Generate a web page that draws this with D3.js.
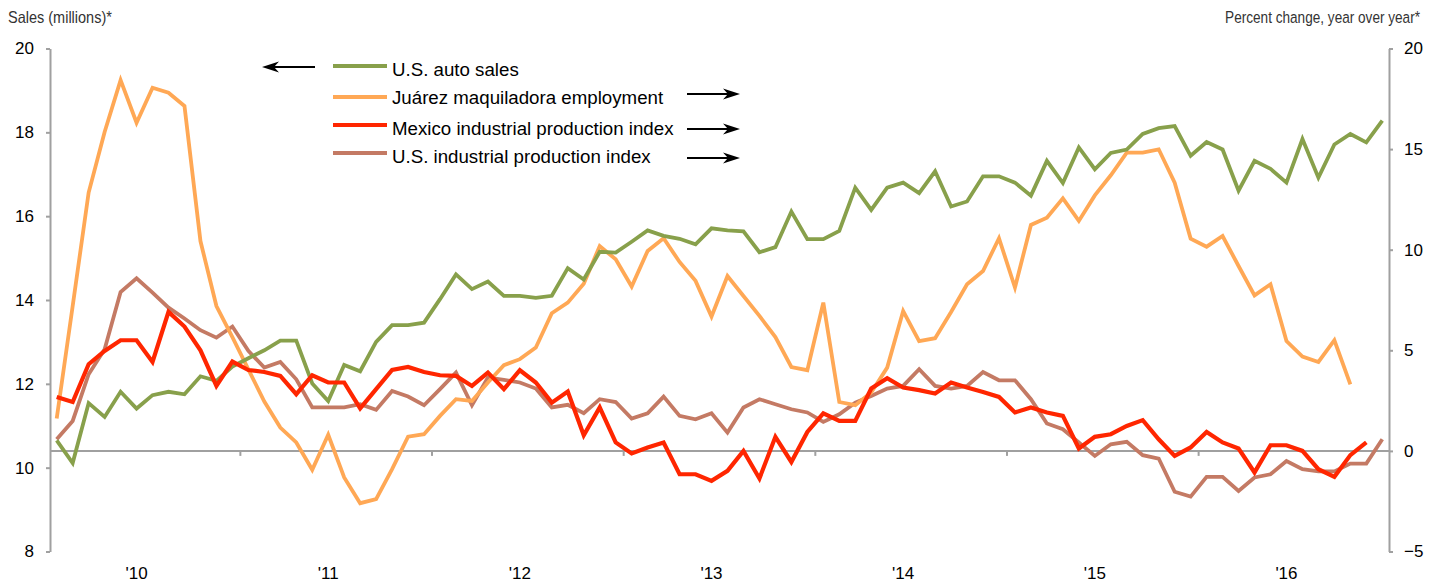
<!DOCTYPE html>
<html>
<head>
<meta charset="utf-8">
<script src="https://cdn.jsdelivr.net/npm/d3@7"></script>
<style>
  body { margin: 0; background: #fff; }
  svg { display: block; font-family: "Liberation Sans", Arial, Helvetica, sans-serif; }
</style>
</head>
<body>
<div id="chart"></div>
<script>
"use strict"

// monthly observations, Jan 2010 - Dec 2016
var startYear = 2010;
var endYear = 2016;
var yearLabels = ["'10", "'11", "'12", "'13", "'14", "'15", "'16"];
var leftTicks = [8, 10, 12, 14, 16, 18, 20];
var rightTicks = [-5, 0, 5, 10, 15, 20];

// U.S. auto sales, millions (left axis)
var autoSales = [10.65, 10.11, 11.54, 11.21, 11.81, 11.41, 11.73, 11.81, 11.75, 12.18, 12.07, 12.41,
    12.61, 12.80, 13.03, 13.03, 12.01, 11.59, 12.45, 12.30, 13.00, 13.40, 13.40, 13.46,
    14.02, 14.61, 14.26, 14.44, 14.10, 14.10, 14.05, 14.10, 14.76, 14.49, 15.15, 15.13,
    15.39, 15.66, 15.53, 15.46, 15.33, 15.71, 15.66, 15.64, 15.14, 15.26, 16.11, 15.45,
    15.45, 15.65, 16.68, 16.15, 16.68, 16.80, 16.55, 17.07, 16.23, 16.35, 16.95, 16.95,
    16.80, 16.49, 17.32, 16.79, 17.64, 17.12, 17.51, 17.59, 17.96, 18.10, 18.15, 17.44,
    17.77, 17.59, 16.61, 17.32, 17.13, 16.80, 17.84, 16.92, 17.71, 17.96, 17.76, 18.28];

// Juárez maquiladora employment, % y/y (right axis)
var juarezEmployment = [1.61, 7.2, 12.84, 15.85, 18.43, 16.31, 18.05, 17.80, 17.14, 10.43, 7.20, 5.65,
    4.05, 2.45, 1.16, 0.42, -0.94, 0.80, -1.32, -2.60, -2.40, -0.91, 0.71, 0.83,
    1.74, 2.57, 2.48, 3.40, 4.26, 4.56, 5.14, 6.84, 7.37, 8.31, 10.18, 9.52,
    8.17, 9.94, 10.57, 9.39, 8.45, 6.68, 8.69, 7.70, 6.71, 5.66, 4.17, 4.01,
    7.37, 2.43, 2.27, 2.90, 4.14, 6.95, 5.46, 5.60, 6.90, 8.28, 8.94, 10.57,
    8.12, 11.23, 11.59, 12.55, 11.43, 12.70, 13.70, 14.82, 14.82, 14.99, 13.33, 10.55,
    10.15, 10.68, 9.19, 7.73, 8.28, 5.46, 4.69, 4.42, 5.50, 3.31, null, null];

// Mexico industrial production index, % y/y (right axis)
var mexicoIP = [2.68, 2.43, 4.31, 4.97, 5.50, 5.50, 4.42, 6.91, 6.18, 5.00, 3.23, 4.44,
    4.02, 3.92, 3.73, 2.82, 3.76, 3.40, 3.40, 2.11, 3.07, 4.02, 4.17, 3.92,
    3.76, 3.73, 3.23, 3.89, 3.07, 4.01, 3.40, 2.40, 2.95, 0.78, 2.16, 0.42,
    -0.13, 0.17, 0.42, -1.16, -1.16, -1.49, -0.99, 0.00, -1.37, 0.70, -0.55, 0.94,
    1.87, 1.49, 1.49, 3.10, 3.61, 3.15, 3.02, 2.85, 3.40, 3.15, 2.93, 2.68,
    1.91, 2.16, 1.91, 1.74, 0.12, 0.70, 0.83, 1.24, 1.53, 0.58, -0.25, 0.17,
    0.94, 0.42, 0.12, -1.07, 0.28, 0.28, 0.00, -0.91, -1.29, -0.21, 0.42, null];

// U.S. industrial production index, % y/y (right axis)
var usIP = [0.58, 1.49, 3.81, 5.05, 7.90, 8.58, 7.87, 7.12, 6.58, 6.00, 5.63, 6.18,
    4.97, 4.14, 4.42, 3.56, 2.16, 2.16, 2.16, 2.32, 2.04, 2.98, 2.70, 2.27,
    3.07, 3.89, 2.27, 3.65, 3.53, 3.40, 3.10, 2.16, 2.29, 1.87, 2.57, 2.43,
    1.61, 1.87, 2.70, 1.74, 1.57, 1.87, 0.91, 2.16, 2.57, 2.32, 2.07, 1.91,
    1.44, 1.82, 2.40, 2.73, 3.10, 3.23, 4.06, 3.23, 3.10, 3.23, 3.92, 3.51,
    3.51, 2.57, 1.36, 1.08, 0.42, -0.25, 0.33, 0.45, -0.21, -0.38, -2.03, -2.27,
    -1.29, -1.29, -1.99, -1.32, -1.16, -0.50, -0.91, -1.02, -1.02, -0.63, -0.63, 0.58];

var seriesNames = ["U.S. auto sales", "Juárez maquiladora employment",
    "Mexico industrial production index", "U.S. industrial production index"];
var seriesColors = ["#88a04b", "#ffa855", "#ff2600", "#c47a64"];

var width = 1440, height = 583;
var plotLeft = 50, plotRight = 1389, plotTop = 48.5, plotBottom = 551.5;

var svg = d3.select("#chart").append("svg")
    .attr("width", width)
    .attr("height", height);

var months = d3.timeMonths(new Date(startYear, 0, 1), new Date(endYear + 1, 0, 1));

var x = d3.scalePoint()
    .domain(d3.range(months.length))
    .range([plotLeft, plotRight])
    .padding(0.42);
var step = x.step();

var yL = d3.scaleLinear().domain([8, 20]).range([plotBottom, plotTop]);
var yR = d3.scaleLinear().domain([-5, 20]).range([plotBottom, plotTop]);

// axis titles: the original uses a condensed face, so squeeze horizontally
function condensedTitle(str, xPos, anchor, targetWidth) {
    var t = svg.append("text")
        .attr("text-anchor", anchor)
        .style("font-size", "16.5px")
        .attr("fill", "#333")
        .text(str);
    var k = targetWidth / t.node().getComputedTextLength();
    t.attr("transform", "translate(" + xPos + ",23) scale(" + k + ",1)");
}
condensedTitle("Sales (millions)*", 8, "start", 104);
condensedTitle("Percent change, year over year*", 1420, "end", 195);

function styleAxis(g) {
    g.selectAll("path, line").attr("stroke", "#a0a0a0").attr("stroke-width", 2);
    g.selectAll("text").style("font-size", "17px").attr("fill", "#000");
}

// left axis
svg.append("g")
    .attr("transform", "translate(" + plotLeft + ",0)")
    .call(d3.axisLeft(yL).tickValues(leftTicks).tickSize(4).tickSizeOuter(0).tickPadding(12))
    .call(styleAxis);

// right axis
svg.append("g")
    .attr("transform", "translate(" + plotRight + ",0)")
    .call(d3.axisRight(yR).tickValues(rightTicks).tickSize(4).tickSizeOuter(0).tickPadding(11))
    .call(styleAxis);

// x axis along zero line of the right scale, year boundaries as ticks
var yearStarts = d3.range(1, yearLabels.length).map(function(k) { return k * 12; });
var xAxisG = svg.append("g").attr("transform", "translate(0," + yR(0) + ")");
xAxisG.append("line")
    .attr("x1", plotLeft).attr("x2", plotRight)
    .attr("stroke", "#a0a0a0").attr("stroke-width", 2);
xAxisG.selectAll(".ytick")
    .data(yearStarts)
    .enter()
    .append("line")
    .attr("x1", function(d) { return x(d) - step / 2; })
    .attr("x2", function(d) { return x(d) - step / 2; })
    .attr("y1", 0).attr("y2", 5)
    .attr("stroke", "#a0a0a0").attr("stroke-width", 2);

svg.selectAll(".yearlabel")
    .data(yearLabels)
    .enter()
    .append("text")
    .attr("x", function(d, i) { return x(i * 12 + 5); })
    .attr("y", 579)
    .attr("text-anchor", "middle")
    .style("font-size", "17px")
    .attr("fill", "#000")
    .text(function(d) { return d; });

// lines
var lineL = d3.line()
    .defined(function(d) { return d != null; })
    .x(function(d, i) { return x(i); })
    .y(function(d) { return yL(d); });
var lineR = d3.line()
    .defined(function(d) { return d != null; })
    .x(function(d, i) { return x(i); })
    .y(function(d) { return yR(d); });

var drawOrder = [
    {data: usIP, gen: lineR, color: seriesColors[3], w: 3.8},
    {data: juarezEmployment, gen: lineR, color: seriesColors[1], w: 3.8},
    {data: autoSales, gen: lineL, color: seriesColors[0], w: 3.8},
    {data: mexicoIP, gen: lineR, color: seriesColors[2], w: 4.2}
];
svg.append("g")
    .selectAll("path")
    .data(drawOrder)
    .enter()
    .append("path")
    .attr("d", function(d) { return d.gen(d.data); })
    .attr("fill", "none")
    .attr("stroke", function(d) { return d.color; })
    .attr("stroke-width", function(d) { return d.w; })
    .attr("stroke-linejoin", "miter");

// legend
var legendLineY = [66, 97, 125, 153];
var legendTextY = [76, 104, 134.5, 162.5];
var legend = svg.append("g");
seriesNames.forEach(function(name, i) {
    legend.append("line")
        .attr("x1", 333).attr("x2", 387)
        .attr("y1", legendLineY[i]).attr("y2", legendLineY[i])
        .attr("stroke", seriesColors[i]).attr("stroke-width", 4);
    legend.append("text")
        .attr("x", 392).attr("y", legendTextY[i])
        .style("font-size", "18.7px")
        .attr("fill", "#000")
        .text(name);
});

// arrows showing which axis each series uses
function arrow(xTail, xTip, y) {
    var dir = xTip > xTail ? 1 : -1;
    svg.append("line")
        .attr("x1", xTail).attr("x2", xTip - dir * 10)
        .attr("y1", y).attr("y2", y)
        .attr("stroke", "#000").attr("stroke-width", 1.8);
    svg.append("path")
        .attr("d", "M" + xTip + "," + y +
            "L" + (xTip - dir * 17) + "," + (y - 5.5) +
            "L" + (xTip - dir * 12) + "," + y +
            "L" + (xTip - dir * 17) + "," + (y + 5.5) + "Z")
        .attr("fill", "#000");
}
arrow(315, 262, 67);
arrow(687, 740, 94);
arrow(687, 740, 129);
arrow(687, 740, 158);
</script>
</body>
</html>
